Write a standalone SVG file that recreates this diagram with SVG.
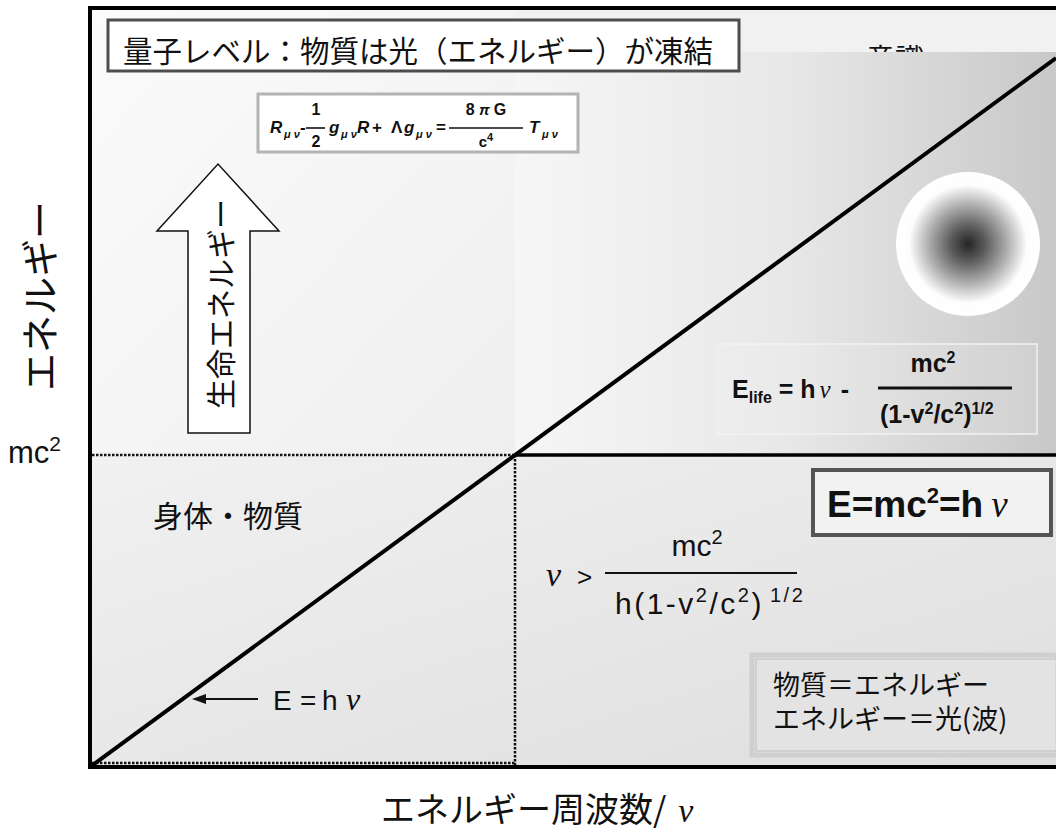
<svg xmlns="http://www.w3.org/2000/svg" width="1056" height="834" viewBox="0 0 1056 834">
<style>
.jp{font-family:"Noto Sans CJK JP","Noto Sans",sans-serif;fill:#111}
.la{font-family:"Liberation Sans",Arial,sans-serif;fill:#111}
.lb{font-family:"Liberation Sans",Arial,sans-serif;font-weight:bold;fill:#111}
.lbi{font-family:"Liberation Sans",Arial,sans-serif;font-weight:bold;font-style:italic;fill:#111}
.nu{font-family:"Liberation Serif","DejaVu Serif",serif;font-style:italic;fill:#111}
.dot{stroke:#111;stroke-width:2.5;stroke-dasharray:2.5 1.5;fill:none}
.solid{stroke:#000;fill:none}
</style>
<defs>
<linearGradient id="gTL" x1="0" y1="0" x2="1" y2="1"><stop offset="0" stop-color="#fbfbfb"/><stop offset="1" stop-color="#efefef"/></linearGradient>
<linearGradient id="gTR" x1="0" y1="0" x2="1" y2="0"><stop offset="0" stop-color="#f6f6f6"/><stop offset="0.5" stop-color="#e8e8e8"/><stop offset="1" stop-color="#c8c8c8"/></linearGradient>
<linearGradient id="gB" x1="0" y1="0" x2="1" y2="1"><stop offset="0" stop-color="#f1f1f1"/><stop offset="1" stop-color="#dedede"/></linearGradient>
<radialGradient id="gC" cx="0.5" cy="0.5" r="0.5"><stop offset="0" stop-color="#252525"/><stop offset="0.25" stop-color="#5e5e5e"/><stop offset="0.55" stop-color="#b0b0b0"/><stop offset="0.82" stop-color="#fdfdfd"/><stop offset="1" stop-color="#ffffff"/></radialGradient>
</defs>

<g id="background">
<rect x="0" y="0" width="1056" height="834" fill="#ffffff"/>
<rect x="90" y="8" width="425" height="447" fill="url(#gTL)"/>
<rect x="515" y="8" width="541" height="44" fill="#f1f1f1"/>
<text class="jp" x="866" y="70" font-size="29">意識</text>
<rect x="515" y="52" width="541" height="403" fill="url(#gTR)"/>
<rect x="90" y="455" width="966" height="312" fill="url(#gB)"/>
</g>

<g id="connectors">
<line class="dot" x1="92" y1="455" x2="515" y2="455"/>
<line class="dot" x1="515" y1="455" x2="515" y2="765"/>
<line class="dot" x1="92" y1="763" x2="515" y2="763"/>
<line class="solid" x1="515" y1="455" x2="1056" y2="455" stroke-width="3.5"/>
<line class="solid" x1="90" y1="767" x2="1056" y2="58" stroke-width="4"/>
<path class="solid" d="M1060,8 L90,8 L90,767 L1060,767" stroke-width="4"/>
<g id="ehv-pointer">
<line x1="258" y1="699" x2="203" y2="699" stroke="#111" stroke-width="1.8"/>
<polygon points="192,699 206,694 206,704" fill="#111"/>
</g>
</g>

<g id="title">
<rect x="108" y="20" width="631" height="51" fill="#ffffff" stroke="#4d4d4d" stroke-width="3"/>
<text class="jp" x="123" y="62" font-size="29.5">量子レベル：物質は光（エネルギー）が凍結</text>
</g>

<g id="einstein-eq">
<rect x="258" y="94" width="320" height="58" fill="#ffffff" stroke="#b3b3b3" stroke-width="3"/>
<text class="lbi" x="270" y="133" font-size="17">R</text>
<text class="lbi" x="284" y="138" font-size="11">μ ν</text>
<text class="lb" x="300" y="133" font-size="17">-</text>
<line x1="306" y1="128" x2="325" y2="128" stroke="#111" stroke-width="1.6"/>
<text class="lb" x="316" y="115" font-size="16" text-anchor="middle">1</text>
<text class="lb" x="316" y="147" font-size="16" text-anchor="middle">2</text>
<text class="lbi" x="329" y="133" font-size="17">g</text>
<text class="lbi" x="341" y="138" font-size="11">μ ν</text>
<text class="lbi" x="357" y="133" font-size="17">R</text>
<text class="lb" x="372" y="133" font-size="17">+</text>
<text class="lb" x="391" y="133" font-size="17">Λ</text>
<text class="lbi" x="404" y="133" font-size="17">g</text>
<text class="lbi" x="416" y="138" font-size="11">μ ν</text>
<text class="lb" x="436" y="133" font-size="17">=</text>
<line x1="449" y1="128" x2="523" y2="128" stroke="#111" stroke-width="1.6"/>
<text class="lb" x="486" y="115" font-size="16" text-anchor="middle">8<tspan class="lbi" font-size="15"> π </tspan>G</text>
<text class="lb" x="486" y="147" font-size="15" text-anchor="middle">c<tspan font-size="11" dy="-6">4</tspan></text>
<text class="lbi" x="529" y="133" font-size="17">T</text>
<text class="lbi" x="542" y="138" font-size="11">μ ν</text>
</g>

<g id="life-arrow">
<path d="M188,433 L188,231 L157,231 L218,164 L279,231 L250,231 L250,433 Z" fill="#ffffff" stroke="#111" stroke-width="1.5"/>
<text class="jp" transform="translate(219,304) rotate(-90)" font-size="30" text-anchor="middle" dominant-baseline="central">生命エネルギー</text>
</g>

<g id="y-axis-label">
<text class="jp" transform="translate(37,296) rotate(-90)" font-size="38" text-anchor="middle" dominant-baseline="central">エネルギー</text>
<text class="la" x="8" y="463" font-size="31">mc<tspan font-size="21" dy="-12">2</tspan></text>
</g>

<g id="x-axis-label">
<text class="jp" x="381" y="822" font-size="34">エネルギー周波数/<tspan class="nu" dx="12">ν</tspan></text>
</g>

<g id="consciousness-circle">
<circle cx="968" cy="244" r="72" fill="url(#gC)"/>
</g>

<g id="elife-eq">
<rect x="718" y="344" width="319" height="90" fill="#ffffff" fill-opacity="0.12" stroke="#f2f2f2" stroke-width="1.5"/>
<text class="lb" x="732" y="398" font-size="25">E<tspan font-size="16" dy="5">life</tspan><tspan dy="-5"> = h</tspan><tspan class="nu" font-weight="normal" dx="4">ν</tspan><tspan dx="10">-</tspan></text>
<text class="lb" x="933" y="372" font-size="25" text-anchor="middle">mc<tspan font-size="16" dy="-9">2</tspan></text>
<line x1="878" y1="388" x2="1012" y2="388" stroke="#111" stroke-width="3"/>
<text class="lb" x="880" y="423" font-size="25">(1-v<tspan font-size="16" dy="-9">2</tspan><tspan dy="9">/c</tspan><tspan font-size="16" dy="-9">2</tspan><tspan dy="9">)</tspan><tspan font-size="16" dy="-9">1/2</tspan></text>
</g>

<g id="emc2-box">
<rect x="813" y="470" width="238" height="65" fill="#f2f2f2" stroke="#555555" stroke-width="4"/>
<text class="lb" x="827" y="517" font-size="37">E=mc<tspan font-size="22" dy="-14">2</tspan><tspan dy="14">=h</tspan><tspan class="nu" font-weight="normal" dx="8">ν</tspan></text>
</g>

<g id="nu-inequality">
<text class="nu" x="546" y="586" font-size="34">ν</text>
<text class="la" x="577" y="586" font-size="26">&gt;</text>
<text class="la" x="697" y="556" font-size="30" text-anchor="middle">mc<tspan font-size="20" dy="-12">2</tspan></text>
<line x1="605" y1="573" x2="797" y2="573" stroke="#111" stroke-width="2"/>
<text class="la" x="615" y="614" font-size="30" letter-spacing="2.5">h(1-v<tspan font-size="20" dy="-12">2</tspan><tspan dy="12">/c</tspan><tspan font-size="20" dy="-12">2</tspan><tspan dy="12">)</tspan><tspan font-size="20" dy="-12" dx="6">1/2</tspan></text>
</g>

<g id="matter-box">
<rect x="752" y="655" width="306" height="100" fill="#e3e3e3" stroke="#cfcfcf" stroke-width="5"/>
<rect x="756" y="659" width="302" height="92" fill="none" stroke="#bdbdbd" stroke-width="1"/>
<text class="jp" x="773" y="695" font-size="27">物質＝エネルギー</text>
<text class="jp" x="773" y="729" font-size="27">エネルギー＝光(波)</text>
</g>

<g id="body-label">
<text class="jp" x="153" y="527" font-size="30">身体・物質</text>
</g>

<g id="ehv-label">
<text class="la" x="273" y="710" font-size="28">E</text>
<text class="la" x="300" y="710" font-size="28">=</text>
<text class="la" x="322" y="710" font-size="28">h</text>
<text class="nu" x="346" y="710" font-size="32">ν</text>
</g>
</svg>
